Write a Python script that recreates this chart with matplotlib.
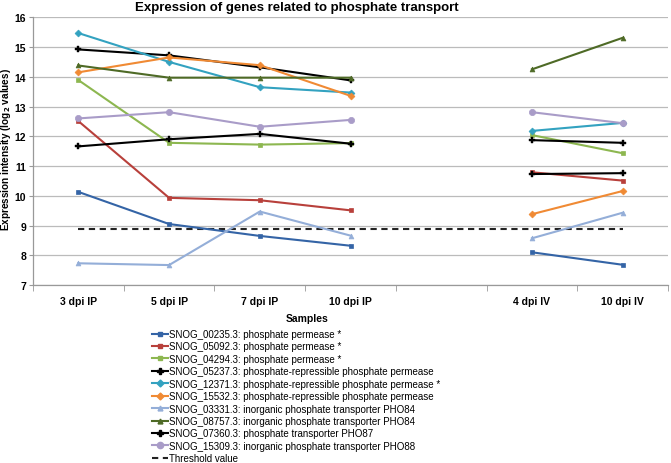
import numpy as np
import matplotlib
matplotlib.use('Agg')
import matplotlib.pyplot as plt
from matplotlib.lines import Line2D

plt.rcParams['font.family'] = ['Liberation Sans', 'DejaVu Sans']

# Samples on the x axis (blank slot separates the IP and IV groups)
samples = ['3 dpi IP', '5 dpi IP', '7 dpi IP', '10 dpi IP', '', '4 dpi IV', '10 dpi IV']

nan = np.nan
snog_00235 = [10.13, 9.05, 8.65, 8.32, nan, 8.10, 7.68]
snog_05092 = [12.51, 9.93, 9.85, 9.51, nan, 10.79, 10.51]
snog_04294 = [13.89, 11.78, 11.72, 11.77, nan, 12.04, 11.43]
snog_05237 = [14.92, 14.72, 14.32, 13.88, nan, 10.73, 10.76]
snog_12371 = [15.47, 14.50, 13.65, 13.47, nan, 12.18, 12.45]
snog_15532 = [14.15, 14.65, 14.39, 13.36, nan, 9.38, 10.16]
snog_03331 = [7.73, 7.67, 9.47, 8.66, nan, 8.57, 9.43]
snog_08757 = [14.38, 13.97, 13.97, 13.97, nan, 14.25, 15.31]
snog_07360 = [11.66, 11.90, 12.08, 11.75, nan, 11.87, 11.78]
snog_15309 = [12.60, 12.81, 12.32, 12.55, nan, 12.81, 12.44]
threshold = 8.89

series = [
    ('SNOG_00235.3: phosphate permease *', snog_00235, '#3464A6', 's'),
    ('SNOG_05092.3: phosphate permease *', snog_05092, '#B8403B', 's'),
    ('SNOG_04294.3: phosphate permease *', snog_04294, '#8DB750', 's'),
    ('SNOG_05237.3: phosphate-repressible phosphate permease', snog_05237, '#000000', 'P'),
    ('SNOG_12371.3: phosphate-repressible phosphate permease *', snog_12371, '#33A2C0', 'D'),
    ('SNOG_15532.3: phosphate-repressible phosphate permease', snog_15532, '#F08A34', 'D'),
    ('SNOG_03331.3: inorganic phosphate transporter PHO84', snog_03331, '#94AED8', '^'),
    ('SNOG_08757.3: inorganic phosphate transporter PHO84', snog_08757, '#4E6A26', '^'),
    ('SNOG_07360.3: phosphate transporter PHO87', snog_07360, '#000000', 'P'),
    ('SNOG_15309.3: inorganic phosphate transporter PHO88', snog_15309, '#A99CC8', 'o'),
]

fig = plt.figure(figsize=(6.71, 4.64), dpi=100)
ax = fig.add_axes([33/671, 1-286/464, (668-33)/671, (286-18.3)/464])

x = np.arange(len(samples))
handles = []
for label, vals, color, marker in series:
    ms = 4.5 if marker in ('o', 'P') else 3.5
    ax.plot(x, vals, color=color, lw=1.5, marker=marker, ms=ms,
            markeredgewidth=0.5 if marker != 'P' else 0.3, zorder=3)
    handles.append(Line2D([], [], color=color, lw=1.5, marker=marker, ms=ms))

ax.plot([x[0], x[-1]], [threshold, threshold], color='#222222', lw=1.5,
        ls=(0, (3, 2.2)), zorder=2)
handles.append(Line2D([], [], color='#222222', lw=1.5, ls=(0, (3, 2.2))))

ax.set_xlim(-0.5, len(samples) - 0.5)
ax.set_ylim(7, 16)
ax.set_yticks(range(7, 17))
ax.grid(axis='y', color='#BBBBBB', lw=0.9, zorder=0)
ax.set_axisbelow(True)

ax.set_xticks(x)
ax.set_xticklabels(samples, fontsize=7.5, fontweight='bold')
ax.set_xticks(np.arange(-0.5, len(samples)), minor=True)
ax.tick_params(axis='x', which='major', length=0, pad=8)
ax.tick_params(axis='x', which='minor', length=4, color='#999999')
ax.tick_params(axis='y', length=3, color='#999999', labelsize=7.5, pad=2)
for t in ax.get_yticklabels():
    t.set_fontweight('bold')

for s in ['top', 'right']:
    ax.spines[s].set_visible(False)
for s in ['left', 'bottom']:
    ax.spines[s].set_color('#999999')
    ax.spines[s].set_linewidth(0.9)

fig.text(297/671, 1-8/464, 'Expression of genes related to phosphate transport',
         ha='center', va='center', fontsize=9.5, fontweight='bold')
fig.text(6/671, 1-150/464, 'Expression intensity (log$_\\mathbf{2}$ values)',
         ha='center', va='center', rotation=90, fontsize=7.2, fontweight='bold')
fig.text(307/671, 1-319/464, 'Samples', ha='center', va='center',
         fontsize=7.5, fontweight='bold')

labels = [s[0] for s in series] + ['Threshold value']
fig.legend(handles, labels, loc='upper left', bbox_to_anchor=(152/671, 1-330/464),
           frameon=False, fontsize=7, handlelength=1.6, handletextpad=0.15,
           labelspacing=0.25, borderaxespad=0, borderpad=0)

fig.savefig('out.png', dpi=100)
